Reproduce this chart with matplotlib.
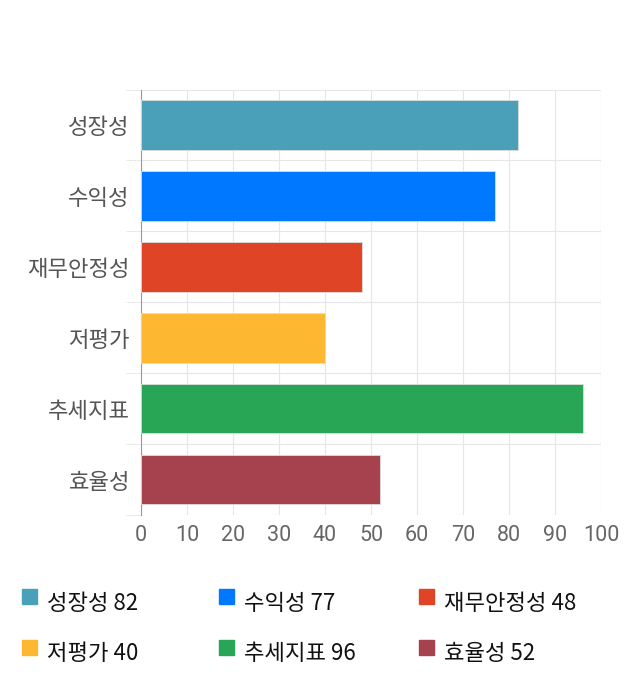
import matplotlib.pyplot as plt
from matplotlib.patches import Rectangle

plt.rcParams['font.family'] = ['Noto Sans CJK KR', 'DejaVu Sans']

categories = ['성장성', '수익성', '재무안정성', '저평가', '추세지표', '효율성']
values = [82, 77, 48, 40, 96, 52]
colors = ['#4aa0b9', '#0078ff', '#e04427', '#fdb731', '#29a655', '#a6414e']
xticks = [0, 10, 20, 30, 40, 50, 60, 70, 80, 90, 100]

fig = plt.figure(figsize=(6.4, 7), dpi=100)
ax = fig.add_axes([141 / 640, 1 - 515 / 700, 460 / 640, 425.5 / 700])

ypos = list(range(len(categories)))
ax.barh(ypos, values, height=0.7, color=colors, edgecolor='#dddddd', linewidth=0.6, zorder=3)
ax.set_ylim(len(categories) - 0.5, -0.5)
ax.set_xlim(0, 100)

ax.set_xticks(xticks)
ax.set_xticklabels([str(t) for t in xticks], family=['Roboto', 'DejaVu Sans'])
ax.set_yticks(ypos)
ax.set_yticklabels(categories)
ax.set_yticks([i + 0.5 for i in range(-1, len(categories))], minor=True)

ax.grid(axis='x', color='#e6e6e6', linewidth=0.8, zorder=0)
ax.grid(axis='y', which='minor', color='#e6e6e6', linewidth=0.8, zorder=0)
ax.tick_params(axis='y', which='major', length=0, pad=8, labelsize=16, labelcolor='#555555')
ax.tick_params(axis='y', which='minor', length=11, color='#e6e6e6')
ax.tick_params(axis='x', length=0, pad=7.5, labelsize=15.5, labelcolor='#666666')

for s in ['top', 'right', 'bottom']:
    ax.spines[s].set_visible(False)
ax.spines['left'].set_color('#999999')
ax.spines['left'].set_linewidth(0.8)

# legend
col_x = [22, 219, 419]
row_y = [597, 648]
for i, (cat, v, c) in enumerate(zip(categories, values, colors)):
    x0 = col_x[i % 3]
    y0 = row_y[i // 3]
    fig.patches.append(Rectangle((x0 / 640, 1 - (y0 + 7) / 700), 15 / 640, 15 / 700,
                                 transform=fig.transFigure, color=c))
    fig.text((x0 + 25) / 640, 1 - (y0 + 6) / 700, f'{cat} {v}', fontsize=16,
             va='center', ha='left', color='#111111')

fig.savefig('out.png', dpi=100)
